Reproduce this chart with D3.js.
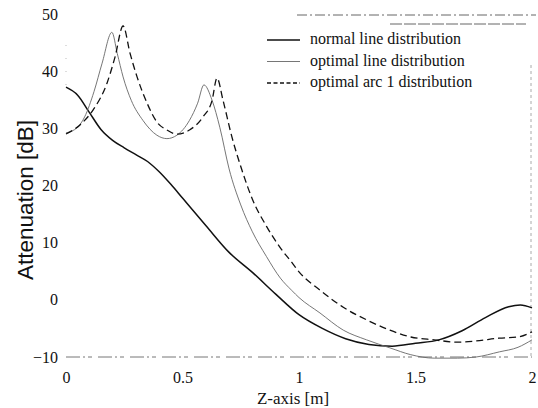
<!DOCTYPE html>
<html>
<head>
<meta charset="utf-8">
<script src="https://cdn.jsdelivr.net/npm/d3@7"></script>
<style>
  body { margin: 0; background: #fff; }
  svg { display: block; }
</style>
</head>
<body>
<div id="chart"></div>
<script>
const width = 538, height = 408;
const margin = { left: 66, right: 6, top: 14, bottom: 51 };

// Z-axis positions [m] and attenuation [dB] per series
const normalZ = [0, 0.05, 0.1, 0.15, 0.2, 0.25, 0.3, 0.35, 0.4, 0.45, 0.5, 0.6, 0.7, 0.8, 0.9, 1.0, 1.1, 1.2, 1.3, 1.4, 1.5, 1.6, 1.7, 1.8, 1.9, 1.95, 2.0];
const normalDb = [37.2, 35.8, 32.8, 29.8, 27.9, 26.6, 25.4, 24.2, 22.4, 20.2, 17.8, 13.0, 8.3, 4.8, 1.0, -2.6, -5.0, -6.8, -7.8, -8.1, -7.6, -7.0, -5.4, -3.1, -1.2, -0.9, -1.4];

const lineZ = [0, 0.05, 0.08, 0.12, 0.155, 0.197, 0.22, 0.245, 0.28, 0.33, 0.39, 0.433, 0.476, 0.53, 0.565, 0.592, 0.627, 0.66, 0.7, 0.75, 0.8, 0.86, 0.92, 0.97, 1.0, 1.09, 1.19, 1.29, 1.39, 1.48, 1.58, 1.68, 1.76, 1.86, 1.94, 2.0];
const lineDb = [29.2, 30.2, 32.0, 36.4, 41.4, 46.8, 43.1, 39.0, 34.9, 31.4, 28.8, 28.2, 28.8, 31.4, 34.4, 37.6, 34.9, 30.2, 22.9, 16.6, 11.9, 7.6, 3.8, 1.6, 0.4, -2.3, -5.3, -7.0, -8.4, -9.6, -10.2, -10.2, -10.0, -9.1, -8.3, -7.0];

const arcZ = [0, 0.06, 0.116, 0.176, 0.21, 0.245, 0.275, 0.305, 0.348, 0.39, 0.433, 0.476, 0.53, 0.588, 0.627, 0.648, 0.674, 0.712, 0.755, 0.8, 0.86, 0.92, 0.97, 1.0, 1.09, 1.19, 1.29, 1.39, 1.48, 1.58, 1.68, 1.76, 1.86, 1.94, 2.0];
const arcDb = [29.0, 30.6, 33.2, 37.9, 42.4, 47.9, 43.1, 39.0, 34.4, 31.1, 29.7, 29.0, 29.7, 32.0, 34.9, 38.8, 34.9, 28.5, 22.7, 17.6, 12.9, 9.1, 6.5, 4.9, 1.7, -1.3, -3.5, -5.3, -6.5, -7.0, -7.4, -7.2, -6.7, -6.5, -5.6];

const xTicks = [0, 0.5, 1, 1.5, 2];
const yTicks = [-10, 0, 10, 20, 30, 40, 50];
const legendNames = ["normal line distribution", "optimal line distribution", "optimal arc 1 distribution"];

const x = d3.scaleLinear().domain([0, 2]).range([margin.left, width - margin.right]);
const y = d3.scaleLinear().domain([-10, 50]).range([height - margin.bottom, margin.top]);

const svg = d3.select("#chart").append("svg")
    .attr("width", width)
    .attr("height", height);

// faint scanned frame pieces
const frame = svg.append("g").attr("fill", "none");
frame.append("line")
    .attr("x1", x(0)).attr("x2", x(2))
    .attr("y1", y(-10)).attr("y2", y(-10))
    .attr("stroke", "#777").attr("stroke-width", 1)
    .attr("stroke-dasharray", "14,3,2,3,4,6");
frame.append("line")
    .attr("x1", 297).attr("x2", 536)
    .attr("y1", y(50) + 1).attr("y2", y(50) + 1)
    .attr("stroke", "#666").attr("stroke-width", 1)
    .attr("stroke-dasharray", "10,3,2,3");
frame.append("line")
    .attr("x1", 390).attr("x2", 526)
    .attr("y1", y(50) + 10).attr("y2", y(50) + 10)
    .attr("stroke", "#666").attr("stroke-width", 1)
    .attr("stroke-dasharray", "12,2");
frame.append("line")
    .attr("x1", x(2) - 1).attr("x2", x(2) - 1)
    .attr("y1", 65).attr("y2", y(-10))
    .attr("stroke", "#aaa").attr("stroke-width", 1)
    .attr("stroke-dasharray", "3,3");
frame.append("line")
    .attr("x1", x(0)).attr("x2", x(0))
    .attr("y1", 45).attr("y2", 95)
    .attr("stroke", "#bbb").attr("stroke-width", 1)
    .attr("stroke-dasharray", "1,12");

// axes, labels only
const xAxis = svg.append("g")
    .attr("transform", "translate(0," + y(-10) + ")")
    .call(d3.axisBottom(x).tickValues(xTicks).tickSize(0).tickPadding(15)
        .tickFormat(d => d3.format("")(d)));
const yAxis = svg.append("g")
    .attr("transform", "translate(" + (x(0) - 8) + ",0)")
    .call(d3.axisLeft(y).tickValues(yTicks).tickSize(0).tickPadding(0));
[xAxis, yAxis].forEach(a => {
    a.select(".domain").remove();
    a.selectAll("text")
        .attr("font-family", "'Liberation Serif', serif")
        .attr("font-size", 16)
        .attr("fill", "#111");
});

svg.append("text")
    .attr("x", 293).attr("y", 404)
    .attr("text-anchor", "middle")
    .attr("font-family", "'Liberation Serif', serif")
    .attr("font-size", 17)
    .attr("fill", "#111")
    .text("Z-axis [m]");

svg.append("text")
    .attr("transform", "translate(33,200) rotate(-90)")
    .attr("text-anchor", "middle")
    .attr("font-family", "'Liberation Sans', sans-serif")
    .attr("font-size", 22.5)
    .attr("fill", "#111")
    .text("Attenuation [dB]");

// series
const line = d3.line().x(d => x(d[0])).y(d => y(d[1])).curve(d3.curveMonotoneX);
const series = [
    { z: normalZ, db: normalDb, stroke: "#111", w: 1.5, dash: null },
    { z: lineZ, db: lineDb, stroke: "#666", w: 0.9, dash: null },
    { z: arcZ, db: arcDb, stroke: "#111", w: 1.3, dash: "7,4" }
];
series.forEach(s => {
    svg.append("path")
        .datum(d3.zip(s.z, s.db))
        .attr("fill", "none")
        .attr("stroke", s.stroke)
        .attr("stroke-width", s.w)
        .attr("stroke-dasharray", s.dash)
        .attr("d", line);
});

// legend
const legend = svg.append("g")
    .selectAll("g")
    .data(series)
    .enter().append("g")
    .attr("transform", (d, i) => "translate(267," + (40 + i * 21.5) + ")");
legend.append("line")
    .attr("x1", 0).attr("x2", 33)
    .attr("stroke", d => d.stroke)
    .attr("stroke-width", d => d.w)
    .attr("stroke-dasharray", (d, i) => i === 2 ? "4,2.5" : null);
legend.append("text")
    .attr("x", 43).attr("y", 4)
    .attr("font-family", "'Liberation Serif', serif")
    .attr("font-size", 16)
    .attr("fill", "#111")
    .text((d, i) => legendNames[i]);
</script>
</body>
</html>
